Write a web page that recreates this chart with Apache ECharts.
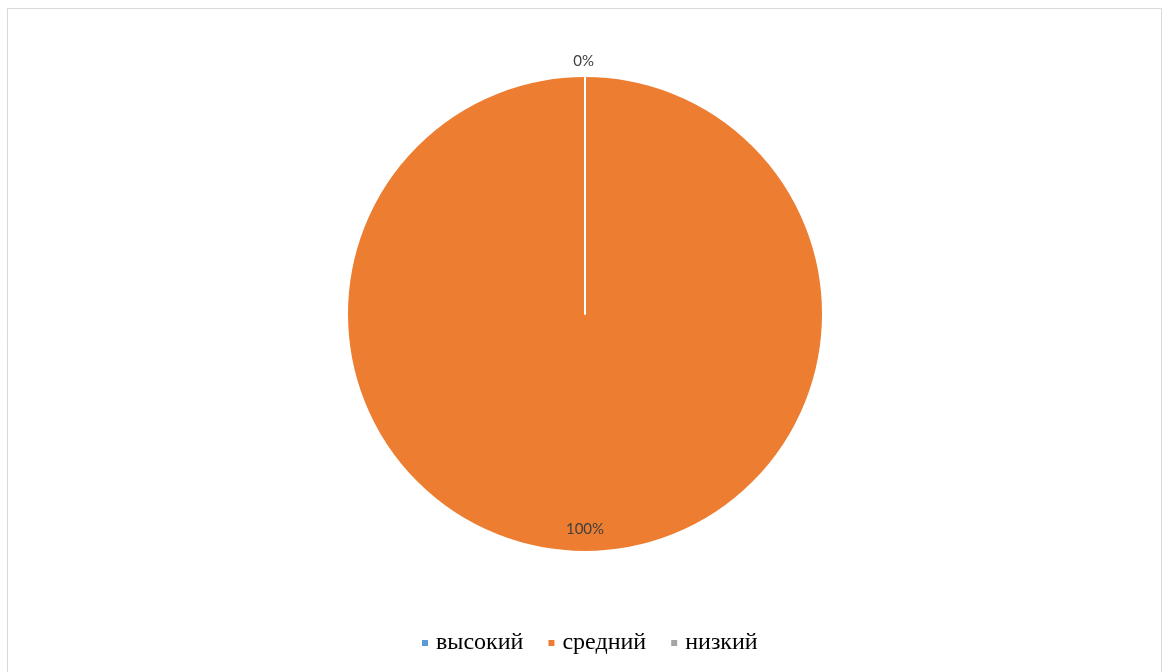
<!DOCTYPE html>
<html>
<head>
<meta charset="utf-8">
<script src="https://cdn.jsdelivr.net/npm/echarts@6/dist/echarts.min.js"></script>
<style>
    html, body { margin: 0; padding: 0; background: #fff; }
    #main { width: 1168px; height: 672px; }
</style>
</head>
<body>
<div id="main"></div>
<script>
// 数据
var categories = ['высокий', 'средний', 'низкий'];
var values = [0, 100, 0];
var colors = ['#5B9BD5', '#ED7D31', '#A5A5A5'];

var chart = echarts.init(document.getElementById('main'));

var pieData = categories.map(function (name, i) {
    return {
        name: name,
        value: values[i],
        itemStyle: { color: colors[i] },
        label: {
            show: i < 2,
            position: values[i] > 0 ? 'inside' : 'outside'
        }
    };
});

var option = {
    animation: false,
    graphic: [
        {
            type: 'rect',
            shape: { x: 7.5, y: 8.5, width: 1154, height: 700 },
            style: { fill: 'none', stroke: '#d9d9d9', lineWidth: 1 },
            silent: true
        }
    ],
    legend: {
        bottom: 12,
        left: 415,
        itemWidth: 8,
        itemHeight: 8,
        itemGap: 23,
        icon: 'rect',
        textStyle: {
            fontFamily: 'Liberation Serif',
            fontSize: 24,
            color: '#000',
            padding: [0, 0, 0, 2]
        },
        data: categories
    },
    series: [
        {
            type: 'pie',
            center: [585, 314],
            radius: 238,
            startAngle: 90,
            clockwise: true,
            itemStyle: { borderColor: '#fff', borderWidth: 2 },
            label: {
                formatter: '{d}%',
                fontFamily: 'Lato',
                fontSize: 15,
                color: '#404040'
            },
            labelLine: { show: false, length: 8, length2: 0 },
            labelLayout: function (params) {
                if (params.dataIndex === 1) {
                    return { dy: 93 };   // 标签靠近外缘
                }
                if (params.dataIndex === 0) {
                    return { dx: 14, dy: -7 };
                }
            },
            emphasis: { disabled: true },
            data: pieData
        }
    ]
};

chart.setOption(option);
</script>
</body>
</html>
